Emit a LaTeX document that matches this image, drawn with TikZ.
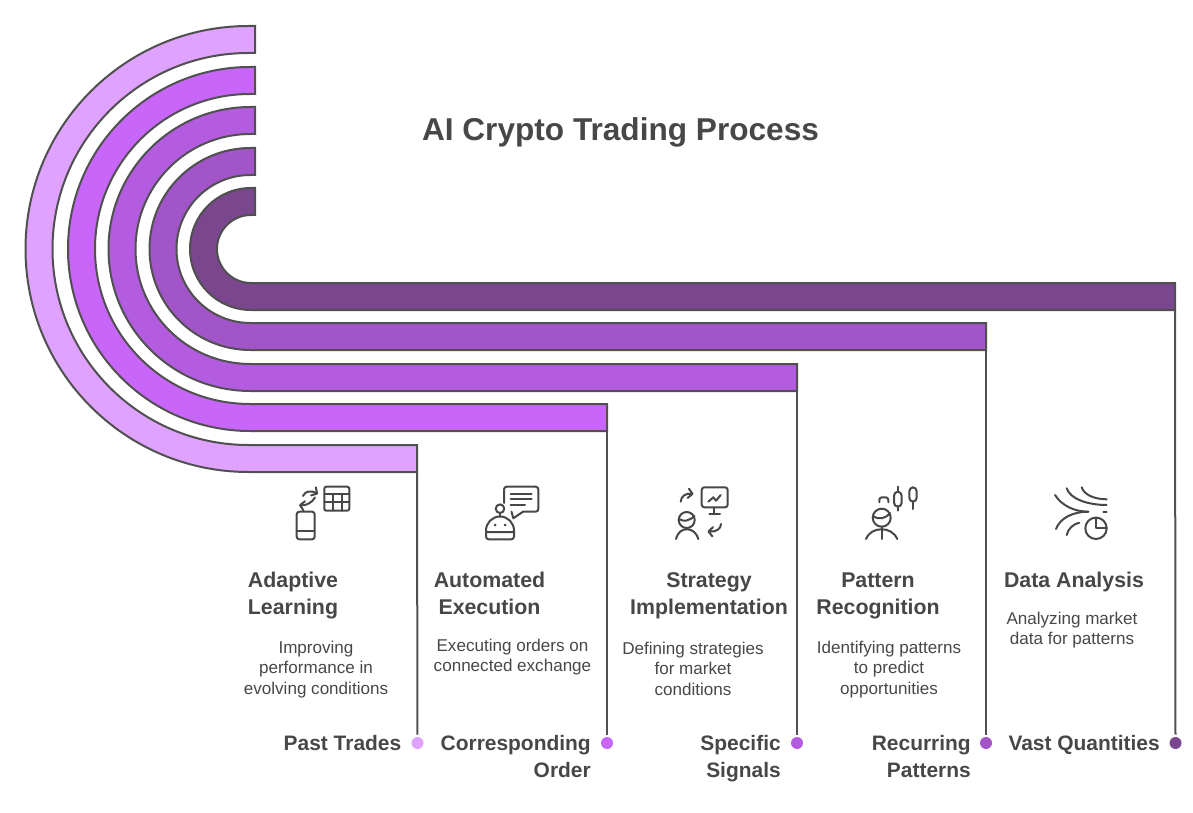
\documentclass[tikz,border=0pt]{standalone}
\usepackage{fontspec}
\setmainfont{Liberation Sans}
\usetikzlibrary{arrows.meta}
\definecolor{ink}{HTML}{474747}
\definecolor{cA}{HTML}{E0A2FF}
\definecolor{cB}{HTML}{C866F9}
\definecolor{cC}{HTML}{B45CE0}
\definecolor{cD}{HTML}{A155C8}
\definecolor{cE}{HTML}{7A478F}
\tikzset{
  bandshape/.style={draw=ink!95,line width=1.5pt,line join=miter},
  conn/.style={draw=ink!95,line width=1.5pt,shorten >=1.5pt},
  dotnode/.style={circle,inner sep=0pt,minimum size=9pt,draw=none},
  ttl/.style={font=\fontsize{23.7}{30}\selectfont\bfseries,text=ink},
  head/.style={font=\fontsize{16}{20.25}\selectfont\bfseries,text=ink,align=center,inner sep=0pt},
  body/.style={font=\fontsize{12.8}{15.4}\selectfont,text=ink,align=center,inner sep=0pt},
  lab/.style={font=\fontsize{15.7}{20.25}\selectfont\bfseries,text=ink,align=right,inner sep=0pt},
  ic/.style={draw=ink,line width=1.5pt,line cap=round,line join=round,fill=none},
  ich/.style={ic,-{Straight Barb[length=3.2pt,width=7pt,round]}}
}
\newcommand{\bandpath}[5]{%
  \path[bandshape,fill=#4] (255,{249-#1}) -- (#5,{249-#1})
    arc[start angle=270,end angle=90,radius=#1] -- (#3,{249+#1}) -- (#3,{249+#2}) -- (#5,{249+#2})
    arc[start angle=90,end angle=270,radius=#2] -- (255,{249-#2}) -- cycle;}
\begin{document}
\begin{tikzpicture}[x=0.75pt,y=-0.75pt]
\useasboundingbox (0,0) rectangle (1193,813);
% bands
\bandpath{223}{196}{417}{cA}{248.5}
\bandpath{182}{155}{607}{cB}{250}
\bandpath{142}{115}{797}{cC}{250.5}
\bandpath{101}{74}{986}{cD}{250.5}
\bandpath{61}{34}{1175}{cE}{251}
\coordinate (eA) at (417,472);
\coordinate (eB) at (607,431);
\coordinate (eC) at (797,391);
\coordinate (eD) at (986,350);
\coordinate (eE) at (1175,310);
\node[dotnode,fill=cA] (dA) at (417.5,743) {};
\node[dotnode,fill=cB] (dB) at (607,743) {};
\node[dotnode,fill=cC] (dC) at (797,743) {};
\node[dotnode,fill=cD] (dD) at (986,743) {};
\node[dotnode,fill=cE] (dE) at (1175.5,743) {};
\draw[conn] (eA) -- (dA);
\draw[conn] (eB) -- (dB);
\draw[conn] (eC) -- (dC);
\draw[conn] (eD) -- (dD);
\draw[conn] (eE) -- (dE);
% title
\node[ttl] (title) at (620.5,132) {AI Crypto Trading Process};
% headings
\node[head] (hA) at (293,596) {Adaptive\\Learning};
\node[head] (hB) at (489.5,593.5) {Automated\\Execution};
\node[head] (hC) at (709,596) {Strategy\\Implementation};
\node[head] (hD) at (878,596) {Pattern\\Recognition};
\node[head] (hE) at (1074,582) {Data Analysis};
% bodies
\node[body] (bA) at (316,669.5) {Improving\\performance in\\evolving conditions};
\node[body] (bB) at (512.5,657) {Executing orders on\\connected exchange};
\node[body] (bC) at (693,668.5) {Defining strategies\\for market\\conditions};
\node[body] (bD) at (889,669.5) {Identifying patterns\\to predict\\opportunities};
\node[body] (bE) at (1072,630) {Analyzing market\\data for patterns};
% labels
\node[lab,anchor=east] (lA) at (401.5,743) {Past Trades};
\node[lab,anchor=north east] (lB) at (591,735) {Corresponding\\Order};
\node[lab,anchor=north east] (lC) at (781,735) {Specific\\Signals};
\node[lab,anchor=north east] (lD) at (971,735) {Recurring\\Patterns};
\node[lab,anchor=east] (lE) at (1160,745) {Vast Quantities};
% icon A
\draw[ic,rounded corners=1.5pt] (324.3,486.7) rectangle (349.3,510.7);
\draw[ic] (324.3,494) -- (349.3,494) (324.3,502.3) -- (349.3,502.3) (333.3,494) -- (333.3,510.7) (341.7,494) -- (341.7,510.7);
\draw[ic,rounded corners=2pt] (296.7,511.7) rectangle (314.7,539.3);
\draw[ic] (296.7,531) -- (314.7,531);
\draw[ich] (303,496) .. controls (305,491) and (311,490) .. (318,494);
\draw[ich] (315,497.5) .. controls (312,503) and (305,506) .. (299,505);
% icon B
\draw[ic,rounded corners=2pt] (486,532) -- (486,539.3) -- (514,539.3) -- (514,532);
\draw[ic] (486,532) -- (486,530.5) arc[start angle=180,end angle=360,x radius=14,y radius=14] -- (514,532) -- cycle;
\fill[ink] (495,525) circle (1.5) (505,525) circle (1.5);
\draw[ic] (500,508.7) circle (4.3);
\draw[ic] (500,513) -- (500,516.5);
\draw[ic,rounded corners=2pt] (504,503) -- (504,486.7) -- (538.3,486.7) -- (538.3,511.7) -- (523,511.7);
\draw[ic] (523,511.7) -- (513.3,518.3) -- (511.5,511.7);
\draw[ic] (510.7,494) -- (531.7,494) (510.7,499.3) -- (531.7,499.3) (510.7,504.7) -- (525,504.7);
% icon C
\draw[ic,rounded corners=2pt] (701.7,487.3) rectangle (727.7,507.3);
\draw[ic] (714.3,507.3) -- (714.3,514.3) (709.3,514.3) -- (720,514.3);
\draw[ic] (708.3,501.7) -- (713.3,497.3) -- (716,500.7) -- (720.7,495);
\draw[ich] (680.7,501.7) .. controls (681,496) and (686,493) .. (693.5,494);
\draw[ic] (686.7,520) circle (8);
\draw[ic] (679,519) .. controls (684,522) and (689,521) .. (694.5,516);
\draw[ic] (676,539) .. controls (678,532) and (682,529.3) .. (686.7,529.3) .. controls (692,529.3) and (696,532) .. (698.3,539);
\draw[ich] (721,524) .. controls (721,529) and (716,532) .. (707.5,531.5);
% icon D
\draw[ic,rounded corners=3pt] (894,491.7) rectangle (901.7,506.7);
\draw[ic] (897.8,486.7) -- (897.8,491.7) (897.8,506.7) -- (897.8,510.7);
\draw[ic,rounded corners=3pt] (909.3,487.3) rectangle (916.7,501.7);
\draw[ic] (913,501.7) -- (913,509);
\draw[ic,rounded corners=2pt] (879.3,502.3) -- (879.3,497.3) -- (888.3,497.3) -- (888.3,502.3);
\draw[ic] (881.7,517.7) circle (9);
\draw[ic] (873,516) .. controls (879,520) and (885,519) .. (890,513);
\draw[ic] (866,539) .. controls (869,532) and (875,529.3) .. (881.7,529.3) .. controls (888,529.3) and (894,532) .. (897.3,539);
\draw[ic] (881.7,526.7) -- (881.7,539);
% icon E
\draw[ic] (1096,528.3) circle (10.7);
\draw[ic] (1096,517.6) -- (1096,528.3) -- (1106.7,528.3);
\draw[ic] (1055,495) .. controls (1062,506) and (1075,511.7) .. (1088.3,511.7);
\draw[ic] (1056,529) .. controls (1060,518) and (1073,511.7) .. (1088.3,511.7);
\draw[ic] (1066.7,488.3) .. controls (1070,499) and (1088,505) .. (1106.7,505);
\draw[ic] (1081.7,487.3) .. controls (1084,495) and (1095,499.3) .. (1106.7,499.3);
\draw[ic] (1066.7,535) .. controls (1068,529) and (1073,524) .. (1079.3,522.7);
\draw[ic] (1103.3,512.3) -- (1106.7,512.3);
\end{tikzpicture}
\end{document}
